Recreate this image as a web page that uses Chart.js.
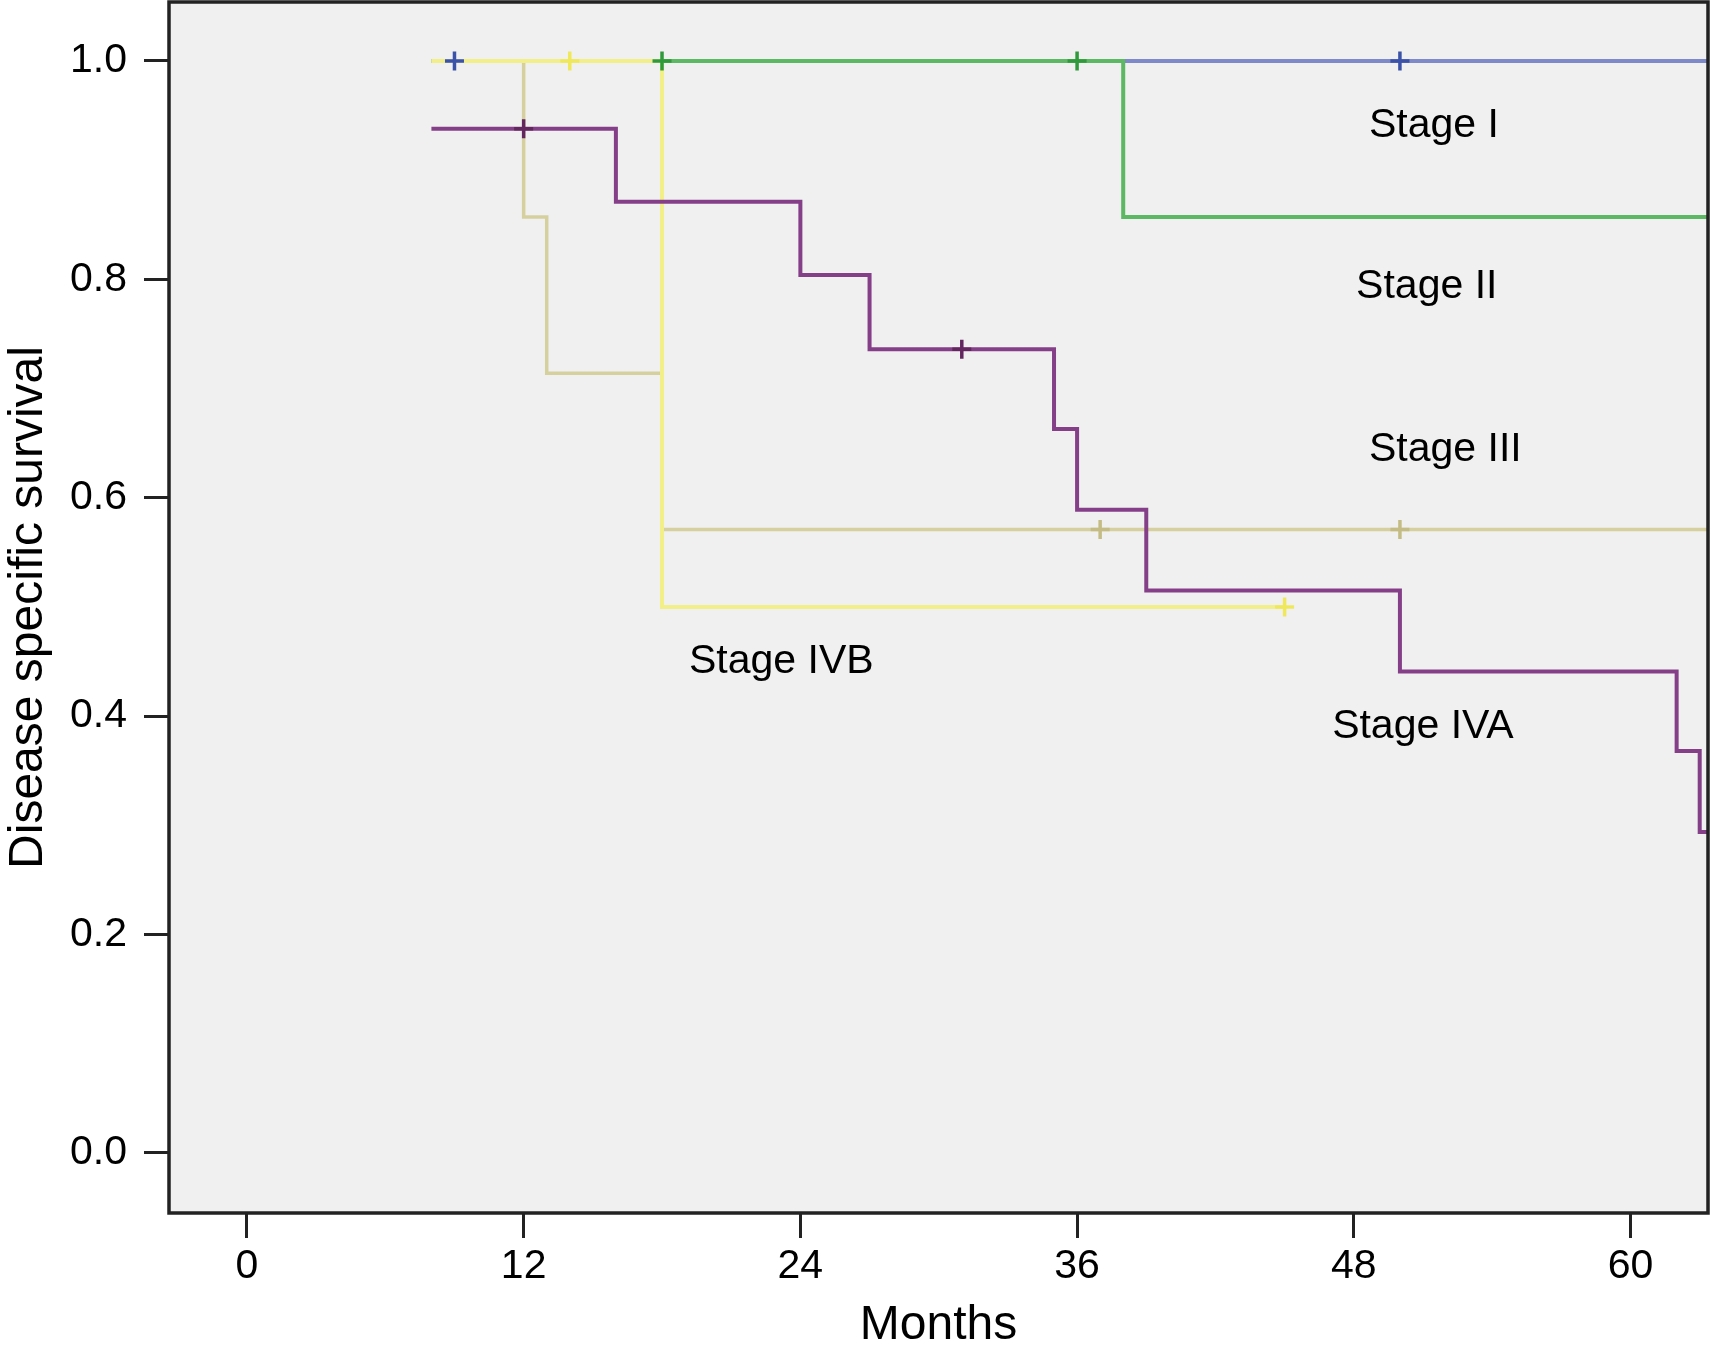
<!DOCTYPE html>
<html>
<head>
<meta charset="utf-8">
<title>Disease specific survival by stage</title>
<script src="https://cdn.jsdelivr.net/npm/chart.js@4.4.1/dist/chart.umd.min.js"></script>
<style>
  html, body { margin: 0; padding: 0; background: #fff; }
  #wrap { position: relative; width: 1711px; height: 1366px; }
</style>
</head>
<body>
<div id="wrap"><canvas id="kmChart"></canvas></div>
<script>
// ─── Data (months, survival) ─────────────────────────────
const xTicks = [0, 12, 24, 36, 48, 60];
const yTicks = [0, 0.2, 0.4, 0.6, 0.8, 1.0];

// censored: 1 = censor mark (+), 0 = step / end point
const stageI_t   = [8, 9, 50, 64];
const stageI_s   = [1, 1, 1, 1];
const stageI_c   = [0, 1, 1, 0];

const stageII_t  = [8, 18, 36, 38, 64];
const stageII_s  = [1, 1, 1, 0.857, 0.857];
const stageII_c  = [0, 1, 1, 0, 0];

const stageIII_t = [8, 12, 13, 18, 37, 50, 64];
const stageIII_s = [1, 0.857, 0.714, 0.571, 0.571, 0.571, 0.571];
const stageIII_c = [0, 0, 0, 0, 1, 1, 0];

const stageIVB_t = [8, 14, 18, 45];
const stageIVB_s = [1, 1, 0.5, 0.5];
const stageIVB_c = [0, 1, 0, 1];

const stageIVA_t = [8, 12, 16, 24, 27, 31, 35, 36, 39, 50, 62, 63, 64];
const stageIVA_s = [0.938, 0.938, 0.871, 0.804, 0.736, 0.736, 0.663, 0.589, 0.515, 0.441, 0.368, 0.294, 0.294];
const stageIVA_c = [0, 1, 0, 0, 0, 1, 0, 0, 0, 0, 0, 0, 0];

const FONT = "'Liberation Sans', Arial, Helvetica, sans-serif";

// step curve
function kmLine(label, t, s, line, order, width) {
  return {
    type: 'line',
    label,
    data: t.map((x, i) => ({ x, y: s[i] })),
    stepped: true,
    borderColor: line,
    borderWidth: width,
    pointRadius: 0,
    pointHoverRadius: 0,
    fill: false,
    clip: 0,
    order,
  };
}

// censor marks (+), kept above all curves
function kmCensor(label, t, s, c, mark) {
  return {
    type: 'scatter',
    label: label + ' censored',
    data: t.map((x, i) => ({ x, y: s[i] })).filter((p, i) => c[i]),
    showLine: false,
    pointStyle: 'cross',
    pointRadius: 9.5,
    pointHoverRadius: 0,
    borderColor: mark,
    borderWidth: 3.5,
    clip: 0,
    order: 0,
  };
}

// text notes placed in data space
const stageNotes = [
  { text: 'Stage I',   x: 48.66, y: 0.941 },
  { text: 'Stage II',  x: 48.1,  y: 0.793 },
  { text: 'Stage III', x: 48.66, y: 0.644 },
  { text: 'Stage IVB', x: 19.17, y: 0.450 },
  { text: 'Stage IVA', x: 47.06, y: 0.390 },
];

const plotFrame = {
  id: 'plotFrame',
  beforeDatasetsDraw(chart) {
    const { ctx, chartArea: a } = chart;
    ctx.save();
    ctx.fillStyle = '#f0f0f0';
    ctx.fillRect(a.left, a.top, a.right - a.left, a.bottom - a.top);
    ctx.restore();
  },
  afterDatasetsDraw(chart) {
    const { ctx, chartArea: a, scales } = chart;
    ctx.save();
    ctx.strokeStyle = '#222';
    ctx.lineWidth = 3.5;
    ctx.strokeRect(a.left, a.top, a.right - a.left, a.bottom - a.top);
    ctx.fillStyle = '#000';
    ctx.font = '41px ' + FONT;
    ctx.textAlign = 'left';
    ctx.textBaseline = 'middle';
    stageNotes.forEach(n => {
      ctx.fillText(n.text, scales.x.getPixelForValue(n.x), scales.y.getPixelForValue(n.y));
    });
    ctx.restore();
  },
};

new Chart(document.getElementById('kmChart'), {
  type: 'line',
  data: {
    datasets: [
      kmLine('Stage I',   stageI_t,   stageI_s,   '#7d89c9', 5, 4),
      kmLine('Stage II',  stageII_t,  stageII_s,  '#5cb862', 4, 4),
      kmLine('Stage III', stageIII_t, stageIII_s, '#d6d09e', 3, 3.5),
      kmLine('Stage IVB', stageIVB_t, stageIVB_s, '#f3ef88', 2, 4),
      kmLine('Stage IVA', stageIVA_t, stageIVA_s, '#853f88', 1, 4),
      kmCensor('Stage I',   stageI_t,   stageI_s,   stageI_c,   '#3a52a8'),
      kmCensor('Stage II',  stageII_t,  stageII_s,  stageII_c,  '#2f9a3a'),
      kmCensor('Stage III', stageIII_t, stageIII_s, stageIII_c, '#c4bc84'),
      kmCensor('Stage IVB', stageIVB_t, stageIVB_s, stageIVB_c, '#efe85a'),
      kmCensor('Stage IVA', stageIVA_t, stageIVA_s, stageIVA_c, '#63265f'),
    ],
  },
  options: {
    responsive: true, maintainAspectRatio: false,
    animation: false,
    events: [],
    layout: { autoPadding: false, padding: { top: 2, right: 3, left: 0, bottom: 0 } },
    scales: {
      x: {
        type: 'linear',
        min: -3.38, max: 63.36,
        afterBuildTicks: s => { s.ticks = xTicks.map(v => ({ value: v })); },
        afterFit: s => { s.height = 153; s.paddingLeft = 0; s.paddingRight = 0; },
        grid: { drawOnChartArea: false, drawTicks: true, tickLength: 25, tickWidth: 3, tickColor: '#222' },
        border: { display: false },
        ticks: { color: '#000', padding: 4, maxRotation: 0, font: { family: FONT, size: 41 },
                 callback: v => String(v) },
        title: { display: true, text: 'Months', color: '#000',
                 font: { family: FONT, size: 48, lineHeight: 1.2 }, padding: { top: 0, bottom: 11 } },
      },
      y: {
        type: 'linear',
        min: -0.055, max: 1.054,
        afterBuildTicks: s => { s.ticks = yTicks.map(v => ({ value: v })); },
        afterFit: s => { s.width = 169; s.paddingTop = 0; s.paddingBottom = 0; },
        grid: { drawOnChartArea: false, drawTicks: true, tickLength: 25, tickWidth: 3, tickColor: '#222' },
        border: { display: false },
        ticks: { color: '#000', padding: 17, font: { family: FONT, size: 41 },
                 callback: v => Number(v).toFixed(1) },
        title: { display: true, text: 'Disease specific survival', color: '#000',
                 font: { family: FONT, size: 48, lineHeight: 1.2 }, padding: { top: 0, bottom: 0 } },
      },
    },
    plugins: {
      legend: { display: false },
      tooltip: { enabled: false },
    },
  },
  plugins: [plotFrame],
});
</script>
</body>
</html>
